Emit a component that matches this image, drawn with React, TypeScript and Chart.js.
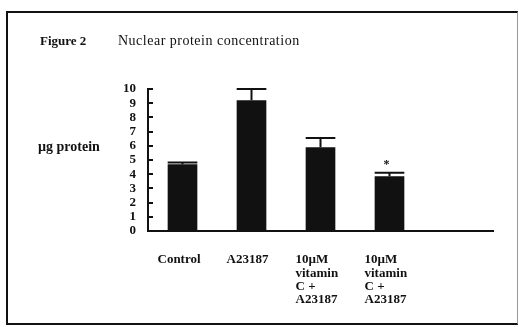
import React, { useEffect, useRef } from "react";
import { Chart, registerables } from "chart.js";

Chart.register(...registerables);

// ---- data ----
const categoryLabels: string[][] = [
  ["Control"],
  ["A23187"],
  ["10µM", "vitamin", "C +", "A23187"],
  ["10µM", "vitamin", "C +", "A23187"],
  [""],
];
const proteinValues: (number | null)[] = [4.7, 9.2, 5.9, 3.85, null];
const errorUpper: (number | null)[] = [4.82, 10.0, 6.55, 4.1, null];
const significance: string[] = ["", "", "", "*", ""];
const yMin = 0;
const yMax = 10;
const yStep = 1;

const FONT = "'Liberation Serif', 'DejaVu Serif', serif";
const INK = "#111";

const errorBarPlugin = {
  id: "errorBars",
  afterDatasetsDraw(chart: any) {
    const meta = chart.getDatasetMeta(0);
    const y = chart.scales.y;
    const ctx = chart.ctx;
    ctx.save();
    ctx.strokeStyle = INK;
    ctx.fillStyle = INK;
    ctx.lineWidth = 2;
    meta.data.forEach((bar: any, i: number) => {
      const v = proteinValues[i];
      const e = errorUpper[i];
      if (v == null || e == null) return;
      const top = y.getPixelForValue(e);
      const base = y.getPixelForValue(v);
      const half = bar.width / 2;
      ctx.beginPath();
      ctx.moveTo(bar.x, base);
      ctx.lineTo(bar.x, top);
      ctx.moveTo(bar.x - half, top);
      ctx.lineTo(bar.x + half, top);
      ctx.stroke();
      if (significance[i]) {
        ctx.font = `bold 12px ${FONT}`;
        ctx.textAlign = "center";
        ctx.textBaseline = "middle";
        ctx.fillText(significance[i], bar.x - 3, top - 8);
      }
    });
    ctx.restore();
  },
  afterDraw(chart: any) {
    const x = chart.scales.x;
    const ctx = chart.ctx;
    ctx.save();
    ctx.fillStyle = INK;
    ctx.font = `bold 13px ${FONT}`;
    ctx.textAlign = "left";
    ctx.textBaseline = "middle";
    const y0 = chart.chartArea.bottom + 29;
    categoryLabels.forEach((lines, i) => {
      const px = x.getPixelForValue(i) - 25;
      lines.forEach((line, j) => {
        ctx.fillText(line, px, y0 + j * 13.3);
      });
    });
    ctx.restore();
  },
};

export default function App() {
  const ref = useRef<HTMLCanvasElement>(null);

  useEffect(() => {
    if (!ref.current) return;
    const chart = new Chart(ref.current, {
      type: "bar",
      data: {
        labels: categoryLabels.map((l) => l.join(" ")),
        datasets: [
          {
            data: proteinValues as any,
            backgroundColor: INK,
            borderWidth: 0,
            barPercentage: 0.43,
            categoryPercentage: 1,
          },
        ],
      },
      options: {
        responsive: false,
        animation: false,
        layout: { padding: { left: 0, right: 26, top: 89, bottom: 0 } },
        plugins: {
          legend: { display: false },
          tooltip: { enabled: false },
        },
        scales: {
          x: {
            grid: { display: false },
            border: { display: true, color: INK, width: 2 },
            ticks: { display: false },
            afterFit: (s: any) => {
              s.height = 96;
            },
          },
          y: {
            min: yMin,
            max: yMax,
            grid: {
              drawOnChartArea: false,
              drawTicks: true,
              tickLength: -5,
              lineWidth: 2,
              color: INK,
            },
            border: { display: true, color: INK, width: 2 },
            ticks: {
              stepSize: yStep,
              autoSkip: false,
              padding: 17,
              color: INK,
              font: { family: FONT, size: 13, weight: "bold" },
            },
            afterFit: (s: any) => {
              s.width = 148;
            },
          },
        },
      },
      plugins: [errorBarPlugin],
    });
    return () => chart.destroy();
  }, []);

  const text = (extra: React.CSSProperties): React.CSSProperties => ({
    position: "absolute",
    fontFamily: FONT,
    color: INK,
    lineHeight: "16px",
    whiteSpace: "nowrap",
    ...extra,
  });

  return (
    <div
      style={{
        position: "fixed",
        left: 0,
        top: 0,
        width: 519,
        height: 327,
        background: "#fff",
        overflow: "hidden",
      }}
    >
      <div
        style={{
          position: "absolute",
          left: 6,
          top: 11,
          width: 512,
          height: 314,
          boxSizing: "border-box",
          borderTop: "2.5px solid #111",
          borderLeft: "2.5px solid #111",
          borderBottom: "2px solid #111",
          borderRight: "1px solid #999",
        }}
      />
      <canvas
        ref={ref}
        width={519}
        height={327}
        style={{ position: "absolute", left: 0, top: 0, display: "block" }}
      />
      <div style={text({ left: 40, top: 33, fontSize: 13, fontWeight: "bold" })}>
        Figure 2
      </div>
      <div style={text({ left: 118, top: 33, fontSize: 14, letterSpacing: 0.5 })}>
        Nuclear protein concentration
      </div>
      <div style={text({ left: 38, top: 139, fontSize: 14, fontWeight: "bold" })}>
        µg protein
      </div>
    </div>
  );
}
